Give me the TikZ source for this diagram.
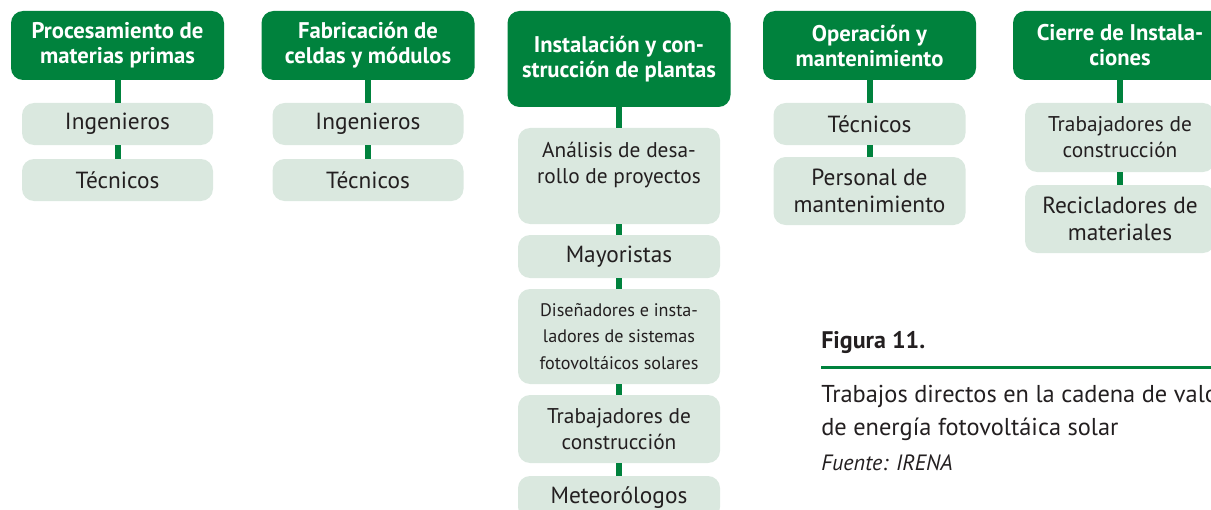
\documentclass[tikz,border=0pt]{standalone}
\usepackage{fontspec}
\setmainfont{PT Sans}
\usepackage{tikz}
\definecolor{verde}{RGB}{0,130,61}
\definecolor{verdeclaro}{RGB}{218,232,223}
\definecolor{tinta}{RGB}{35,31,32}
\def\px#1{#1*0.75pt}
\tikzset{
	etapa/.style={rounded corners=\px{12}, fill=verde, text=white, align=center, inner sep=0pt,
		font=\bfseries\fontsize{17}{18.75}\selectfont, minimum width=\px{213}, minimum height=\px{69}},
	puesto/.style={rounded corners=\px{12}, fill=verdeclaro, text=tinta, align=center, inner sep=0pt,
		font=\fontsize{17.5}{20}\selectfont, minimum width=\px{191}, minimum height=\px{42}},
	dos/.style={font=\fontsize{16}{19.5}\selectfont, minimum height=\px{68}},
	enlace/.style={draw=verde, line width=\px{6}},
	leyenda/.style={anchor=base west, inner sep=0pt, text=tinta}
}

\begin{document}
\begin{tikzpicture}[x=0.75pt, y=-0.75pt]
			%%%%% START %%%%%
			\useasboundingbox (0, 0) rectangle (1211, 510);
			\clip (0, 0) rectangle (1211, 510);
			
			% materias primas
			\node[etapa] (h1) at (117.5, 45.5) {Procesamiento de\\materias primas};
			\node[puesto] (a1) at (117.5, 124) {Ingenieros};
			\node[puesto] (b1) at (117.5, 180) {Técnicos};
			\draw[enlace] (h1) -- (a1);
			\draw[enlace] (a1) -- (b1);
			
			% celdas y modulos
			\node[etapa] (h2) at (368, 45.5) {Fabricación de\\celdas y módulos};
			\node[puesto] (a2) at (368, 124) {Ingenieros};
			\node[puesto] (b2) at (368, 180) {Técnicos};
			\draw[enlace] (h2) -- (a2);
			\draw[enlace] (a2) -- (b2);
			
			% instalacion
			\node[etapa, minimum width=\px{223}, minimum height=\px{96}] (h3) at (619, 59) {Instalación y con-\\strucción de plantas};
			\node[puesto, dos, minimum width=\px{202}, minimum height=\px{96}] (a3) at (619, 176) {Análisis de desa-\\rollo de proyectos\\\mbox{}};
			\node[puesto, minimum width=\px{202}, minimum height=\px{43}] (b3) at (619, 256.5) {Mayoristas};
			\node[puesto, minimum width=\px{202}, minimum height=\px{95}, font=\fontsize{13.6}{20}\selectfont] (c3) at (619, 336.5) {Diseñadores e insta-\\ladores de sistemas\\fotovoltáicos solares};
			\node[puesto, dos, minimum width=\px{202}] (d3) at (619, 429) {Trabajadores de\\construcción};
			\node[puesto, minimum width=\px{202}, minimum height=\px{43}] (e3) at (619, 497.5) {Meteorólogos};
			\draw[enlace] (h3) -- (a3);
			\draw[enlace] (a3) -- (b3);
			\draw[enlace] (b3) -- (c3);
			\draw[enlace] (c3) -- (d3);
			\draw[enlace] (d3) -- (e3);
			
			% operacion
			\node[etapa] (h4) at (869.5, 45.5) {Operación y\\mantenimiento};
			\node[puesto, minimum width=\px{192}] (a4) at (869.5, 124) {Técnicos};
			\node[puesto, minimum width=\px{192}, minimum height=\px{68}] (b4) at (869.5, 191) {Personal de\\mantenimiento};
			\draw[enlace] (h4) -- (a4);
			\draw[enlace] (a4) -- (b4);
			
			% cierre
			\node[etapa, minimum width=\px{214}] (h5) at (1120, 45.5) {Cierre de Instala-\\ciones};
			\node[puesto, dos, minimum width=\px{190}, minimum height=\px{69}] (a5) at (1120, 137.5) {Trabajadores de\\construcción};
			\node[puesto, minimum width=\px{190}, minimum height=\px{68}] (b5) at (1120, 219) {Recicladores de\\materiales};
			\draw[enlace] (h5) -- (a5);
			\draw[enlace] (a5) -- (b5);
			
			% figura
			\node[leyenda, font=\bfseries\fontsize{18}{20}\selectfont] (fig) at (821, 348) {Figura 11.};
			\coordinate (r0) at (821, 367);
			\coordinate (r1) at (1211, 367);
			\draw[verde, line width=\px{3}] (r0) -- (r1);
			\node[leyenda, font=\fontsize{18.3}{20}\selectfont] (ley1) at (821, 402) {Trabajos directos en la cadena de valor};
			\node[leyenda, font=\fontsize{18.3}{20}\selectfont] (ley2) at (821, 435) {de energía fotovoltáica solar};
			\node[leyenda, font=\itshape\fontsize{16.6}{18}\selectfont] (src) at (821, 470) {Fuente: IRENA};
			
			%%%%% END %%%%%
		\end{tikzpicture}
\end{document}
